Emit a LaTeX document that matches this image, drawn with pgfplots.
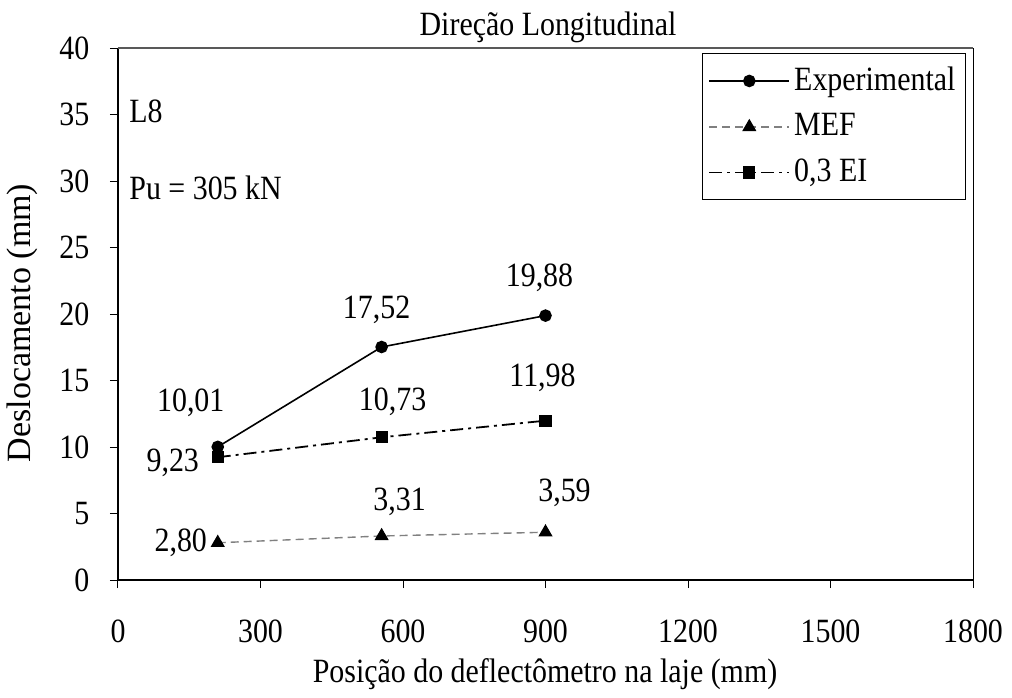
\documentclass[border=0pt]{standalone}
\usepackage{fontspec}
\setmainfont{Liberation Serif}[FakeStretch=0.88]
\newfontfamily\ylfont{Liberation Serif}
\usepackage{pgfplots}
\pgfplotsset{compat=1.18}
\begin{document}
\fontsize{17}{20}\selectfont
\begin{tikzpicture}
\path[use as bounding box] (-59pt,-58.5pt) rectangle (447pt,290pt);
\begin{axis}[
  at={(0pt,0pt)}, anchor=south west,
  scale only axis, width=427.5pt, height=266pt,
  xmin=0, xmax=1800, ymin=0, ymax=40,
  xtick={0,300,...,1800}, ytick={0,5,...,40},
  axis lines*=left,
  axis line style={-},
  x axis line style={-, line width=1.1pt},
  y axis line style={-, line width=0.6pt},
  tick align=outside, major tick length=4pt,
  tick style={black, line width=0.5pt},
  /pgf/number format/assume math mode=true,
  /pgf/number format/1000 sep={},
  ticklabel style={font=\fontsize{17}{20}\selectfont},
  xticklabel style={anchor=north, yshift=-10pt},
  yticklabel style={anchor=east, xshift=-4.5pt},
  clip=false,
  legend cell align=left,
  legend style={at={(0.9918,0.9906)}, anchor=north east, draw=black, line width=0.6pt,
    font=\fontsize{17}{20}\selectfont, inner xsep=3pt, inner ysep=4.5pt, row sep=5pt,
    /tikz/every even column/.append style={column sep=7pt}},
  legend image code/.code={\draw[#1, mark repeat=2, mark phase=2] plot coordinates {(0pt,0pt) (20pt,0pt) (40pt,0pt)};},
]
\draw[gray!70!black, line width=0.8pt] (rel axis cs:0,1) -- (rel axis cs:1,1);
\draw[black, line width=0.5pt] (rel axis cs:1,0) -- (rel axis cs:1,1);

\addplot[black, line width=0.8pt, mark=*, mark size=2.75pt, mark options={solid, fill=black}]
  coordinates {(210,10.01) (555,17.52) (900,19.88)};
\addlegendentry{Experimental}
\addplot[gray, line width=0.7pt, dash pattern=on 4pt off 2.5pt, mark=triangle*, mark size=3.4pt, mark options={solid, fill=black, draw=black}]
  coordinates {(210,2.80) (555,3.31) (900,3.59)};
\addlegendentry{MEF}
\addplot[black, line width=0.9pt, dash pattern=on 6.5pt off 2.5pt on 1.5pt off 2.5pt, mark=square*, mark size=2.6pt, mark options={solid, fill=black}]
  coordinates {(210,9.23) (555,10.73) (900,11.98)};
\addlegendentry{0,3 EI}

\node at (axis cs:210,10.01) [xshift=-13.5pt, yshift=22pt] {10,01};
\node at (axis cs:555,17.52) [xshift=-2.5pt, yshift=18.5pt] {17,52};
\node at (axis cs:900,19.88) [xshift=-3pt, yshift=19pt] {19,88};
\node at (axis cs:900,11.98) [xshift=-1.5pt, yshift=21.5pt] {11,98};
\node at (axis cs:555,10.73) [xshift=5.5pt, yshift=17.5pt] {10,73};
\node at (axis cs:555,3.31) [xshift=9pt, yshift=17pt] {3,31};
\node at (axis cs:900,3.59) [xshift=9.5pt, yshift=19.5pt] {3,59};
\node at (axis cs:210,9.23) [xshift=-22.5pt, yshift=-3pt] {9,23};
\node at (axis cs:210,2.80) [xshift=-18.5pt, yshift=0pt] {2,80};

\node[anchor=west, inner sep=0pt] at (rel axis cs:0.0129,0.88) {L8};
\node[anchor=west, inner sep=0pt] at (rel axis cs:0.0129,0.737) {Pu = 305 kN};
\end{axis}
\node at (215pt,276.5pt) {Direção Longitudinal};
\node[rotate=90, font=\ylfont] at (-48pt,128.5pt) {Deslocamento (mm)};
\node at (213.5pt,-47pt) {Posição do deflectômetro na laje (mm)};
\end{tikzpicture}
\end{document}
